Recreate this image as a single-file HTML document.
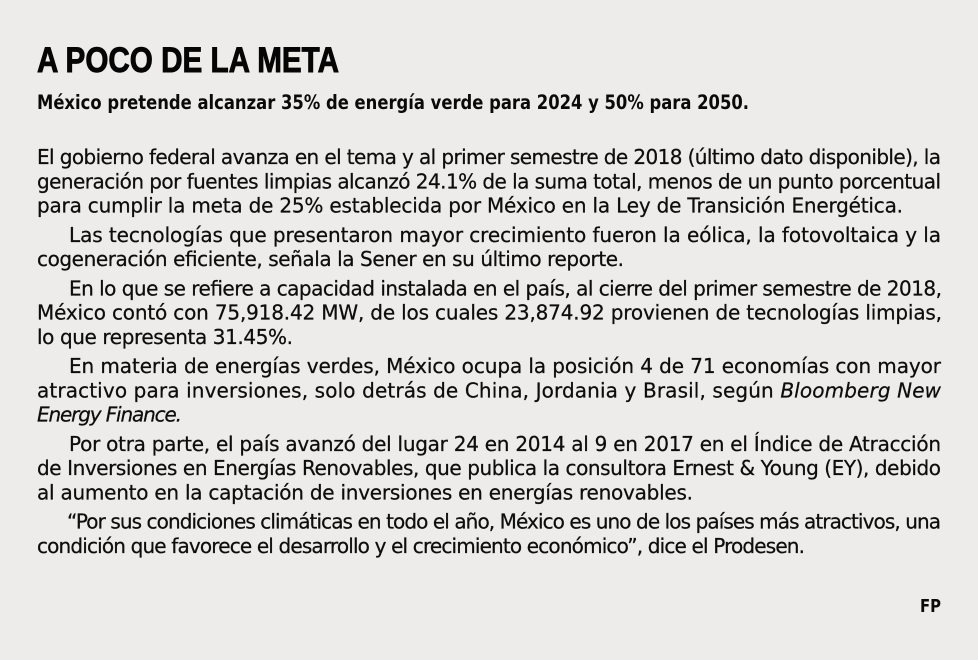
<!DOCTYPE html>
<html>
<head>
<meta charset="utf-8">
<style>
  html, body { margin: 0; padding: 0; background: #edecea; }
  svg { display: block; }
  .b { font-family: "DejaVu Sans", "Liberation Sans", sans-serif; font-size: 20px; fill: #0d0d0d; stroke: #0d0d0d; stroke-width: 0.25; }
  .i { font-style: italic; }
</style>
</head>
<body>
<svg width="978" height="660" viewBox="0 0 978 660" xmlns="http://www.w3.org/2000/svg">
  <rect width="978" height="660" fill="#edecea"/>
  <text x="37" y="72" font-family="Liberation Sans, Arial, sans-serif" font-weight="bold" font-size="35" fill="#050505" stroke="#050505" stroke-width="0.9" textLength="302" lengthAdjust="spacingAndGlyphs">A POCO DE LA META</text>
  <text x="37" y="109" font-family="DejaVu Sans, Liberation Sans, sans-serif" font-weight="bold" font-size="19.5" fill="#0a0a0a" textLength="712" lengthAdjust="spacingAndGlyphs">México pretende alcanzar 35% de energía verde para 2024 y 50% para 2050.</text>

  <text class="b" x="37" y="164" textLength="904" lengthAdjust="spacing">El gobierno federal avanza en el tema y al primer semestre de 2018 (último dato disponible), la</text>
  <text class="b" x="37" y="188.3" textLength="904" lengthAdjust="spacing">generación por fuentes limpias alcanzó 24.1% de la suma total, menos de un punto porcentual</text>
  <text class="b" x="37" y="212.6" textLength="866" lengthAdjust="spacing">para cumplir la meta de 25% establecida por México en la Ley de Transición Energética.</text>
  <text class="b" x="69" y="241.8" textLength="872" lengthAdjust="spacing">Las tecnologías que presentaron mayor crecimiento fueron la eólica, la fotovoltaica y la</text>
  <text class="b" x="37" y="266.1" textLength="587" lengthAdjust="spacing">cogeneración eficiente, señala la Sener en su último reporte.</text>
  <text class="b" x="69" y="295.3" textLength="873" lengthAdjust="spacing">En lo que se refiere a capacidad instalada en el país, al cierre del primer semestre de 2018,</text>
  <text class="b" x="37" y="319.6" textLength="905" lengthAdjust="spacing">México contó con 75,918.42 MW, de los cuales 23,874.92 provienen de tecnologías limpias,</text>
  <text class="b" x="37" y="343.9" textLength="256" lengthAdjust="spacing">lo que representa 31.45%.</text>
  <text class="b" x="69" y="373.1" textLength="872" lengthAdjust="spacing">En materia de energías verdes, México ocupa la posición 4 de 71 economías con mayor</text>
  <text class="b" x="37" y="397.4" textLength="904" lengthAdjust="spacing">atractivo para inversiones, solo detrás de China, Jordania y Brasil, según <tspan class="i">Bloomberg New</tspan></text>
  <text class="b i" x="37" y="421.7" textLength="145" lengthAdjust="spacing">Energy Finance.</text>
  <text class="b" x="69" y="450.9" textLength="872" lengthAdjust="spacing">Por otra parte, el país avanzó del lugar 24 en 2014 al 9 en 2017 en el Índice de Atracción</text>
  <text class="b" x="37" y="475.2" textLength="904" lengthAdjust="spacing">de Inversiones en Energías Renovables, que publica la consultora Ernest &amp; Young (EY), debido</text>
  <text class="b" x="37" y="499.5" textLength="656" lengthAdjust="spacing">al aumento en la captación de inversiones en energías renovables.</text>
  <text class="b" x="67" y="528.7" textLength="874" lengthAdjust="spacing">“Por sus condiciones climáticas en todo el año, México es uno de los países más atractivos, una</text>
  <text class="b" x="37" y="553" textLength="768" lengthAdjust="spacing">condición que favorece el desarrollo y el crecimiento económico”, dice el Prodesen.</text>

  <text x="920" y="612" font-family="DejaVu Sans, Liberation Sans, sans-serif" font-weight="bold" font-size="18" fill="#0a0a0a" textLength="21" lengthAdjust="spacingAndGlyphs">FP</text>
</svg>
</body>
</html>
